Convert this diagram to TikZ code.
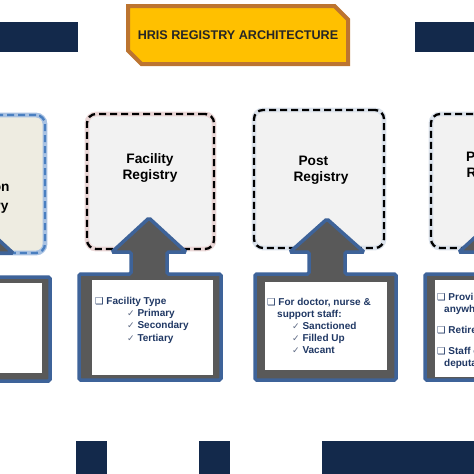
\documentclass[tikz,border=0pt]{standalone}
\usepackage{fontspec}
\setmainfont{Liberation Sans}
\newfontfamily\symfont{DejaVu Sans}
\usepackage{tikz}
\usetikzlibrary{shapes.misc, positioning}

\definecolor{navy}{HTML}{13294B}
\definecolor{titlefill}{HTML}{FFC000}
\definecolor{titleedge}{HTML}{BC7430}
\definecolor{titletext}{HTML}{262626}
\definecolor{callblue}{HTML}{3E6399}
\definecolor{callgray}{HTML}{595959}
\definecolor{regfill}{HTML}{F2F2F2}
\definecolor{locfill}{HTML}{EEECE1}
\definecolor{pinkhalo}{HTML}{EAD6D6}
\definecolor{greyhalo}{HTML}{DCE3EC}
\definecolor{bluehalo}{HTML}{A9C2E2}
\definecolor{bluedash}{HTML}{4A7FC0}
\definecolor{listblue}{HTML}{203864}
\definecolor{tickgray}{HTML}{5F6B85}

\newcommand{\sqbox}{{\symfont\fontsize{9.5}{10}\selectfont ❑}}
\newcommand{\tickmark}{{\symfont\fontsize{9}{10}\selectfont\color{tickgray}✓}}

\begin{document}
\begin{tikzpicture}[
    x=1pt, y=-1pt,
    bar/.style={rectangle, fill=navy, inner sep=0pt, anchor=north west},
    titlebox/.style={chamfered rectangle, chamfered rectangle corners={north east, south west}, chamfered rectangle xsep=9pt, chamfered rectangle ysep=9pt, draw=titleedge, line width=4pt, fill=titlefill, minimum width=220pt, minimum height=58pt, inner sep=0pt, text=titletext, font=\fontsize{12.6}{14}\selectfont\bfseries},
    dashline/.style={draw=black, line width=2.3pt, dash pattern=on 7pt off 4pt},
    regbox/.style={rectangle, rounded corners=9pt, draw=greyhalo, line width=4.8pt, fill=regfill, postaction={dashline}},
    regtitle/.style={align=center, inner sep=0pt, font=\fontsize{13.7}{16}\selectfont\bfseries},
    callout/.style={draw=callblue, line width=3.5pt, fill=callgray, rounded corners=1.5pt},
    innerbox/.style={rectangle, fill=white, inner sep=0pt, anchor=north west},
    listtext/.style={anchor=north west, inner sep=0pt, align=left, text=listblue, font=\fontsize{10}{12.2}\selectfont\bfseries}
]
\useasboundingbox (0,0) rectangle (474,474);
\clip (0,0) rectangle (474,474);

% Header bars and title
\node[bar, minimum width=78pt, minimum height=30pt] (bartl) at (0,22) {};
\node[bar, minimum width=59pt, minimum height=30pt] (bartr) at (415,22) {};
\node[titlebox] (title) at (238,35) {HRIS REGISTRY ARCHITECTURE};

% Registry boxes
\node[regbox, fill=locfill, draw=bluehalo, dashline/.append style={draw=bluedash}, minimum width=128pt, minimum height=138pt] (locreg) at (-19,184) {};
\node[regbox, draw=pinkhalo, minimum width=127pt, minimum height=135pt] (facreg) at (150.5,181.5) {};
\node[regbox, minimum width=130pt, minimum height=138pt] (postreg) at (319,179) {};
\node[regbox, minimum width=128pt, minimum height=134pt] (provreg) at (495,181) {};

\node[regtitle] (loctitle) at (-19,197.5) {Location\\[3pt]Registry};
\node[regtitle] (factitle) at (150,168) {Facility\\Registry};
\node[regtitle, align=left] (posttitle) at (321,170) {\hspace*{5pt}Post\\Registry};
\node[regtitle] (provtitle) at (494,166) {Provider\\Registry};

% Arrow callouts
\draw[callout] (-96,381) -- (-96,277) -- (-42,277) -- (-42,253) -- (-61,253) -- (-24,219) -- (13,253) -- (-6,253) -- (-6,277) -- (50,277) -- (50,381) -- cycle;
\draw[callout] (79,380) -- (79,274) -- (131,274) -- (131,252) -- (112,252) -- (149,218) -- (186,252) -- (167,252) -- (167,274) -- (221,274) -- (221,380) -- cycle;
\draw[callout] (255,380) -- (255,274) -- (309,274) -- (309,252) -- (290,252) -- (327,219) -- (364,252) -- (345,252) -- (345,274) -- (396,274) -- (396,380) -- cycle;
\draw[callout] (425,380) -- (425,274) -- (478,274) -- (478,252) -- (459,252) -- (496,218) -- (533,252) -- (514,252) -- (514,274) -- (567,274) -- (567,380) -- cycle;

\node[innerbox, minimum width=126pt, minimum height=90pt] (locin) at (-84,283) {};
\node[innerbox, minimum width=121pt, minimum height=95pt] (facin) at (92,280) {};
\node[innerbox, minimum width=122pt, minimum height=88pt] (postin) at (265,282) {};
\node[innerbox, minimum width=122pt, minimum height=97pt] (provin) at (435,280) {};

% Lists
\node[listtext] (faclist) at (95,297) {\sqbox\ Facility Type\\
  \hspace*{32pt}\tickmark\ Primary\\
  \hspace*{32pt}\tickmark\ Secondary\\
  \hspace*{32pt}\tickmark\ Tertiary};
\node[listtext] (postlist) at (267,297.7) {\sqbox\ For doctor, nurse \&\\
  \hspace*{10pt}support staff:\\
  \hspace*{25pt}\tickmark\ Sanctioned\\
  \hspace*{25pt}\tickmark\ Filled Up\\
  \hspace*{25pt}\tickmark\ Vacant};
\node[listtext] (provlist) at (437,293.2) {\sqbox\ Provision to post\\
  \hspace*{7pt}anywhere\\[8pt]
  \sqbox\ Retirement\\[9pt]
  \sqbox\ Staff on\\
  \hspace*{7pt}deputation};

% Footer bars
\node[bar, minimum width=31pt, minimum height=33pt] (barb1) at (76,441) {};
\node[bar, minimum width=31pt, minimum height=33pt] (barb2) at (199,441) {};
\node[bar, minimum width=152pt, minimum height=33pt] (barb3) at (322,441) {};

\end{tikzpicture}
\end{document}
